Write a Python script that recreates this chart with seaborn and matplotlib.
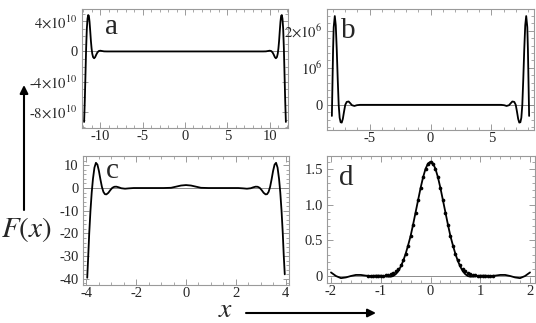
""" Four panels of F(x) with Mathematica-like frames """

import numpy as np
import matplotlib
matplotlib.use("Agg")
import matplotlib.pyplot as plt
from matplotlib.ticker import MultipleLocator
import seaborn as sns

W, H = 536, 323
FRAME = "#9a9a9a"

# panel a, F in units of 1e10
a_x = [-11.90, -11.82, -11.74, -11.66, -11.58, -11.50, -11.42, -11.34, -11.26,
       -11.18, -11.10, -11.02, -10.94, -10.84, -10.72, -10.60, -10.48, -10.34,
       -10.18, -10.00, -9.80, -9.55, -9.20, -5.0, 0.0, 5.0,
       9.20, 9.55, 9.80, 10.00, 10.18, 10.34, 10.48, 10.60, 10.72, 10.84,
       10.94, 11.02, 11.10, 11.18, 11.26, 11.34, 11.42, 11.50, 11.58, 11.66,
       11.74, 11.82, 11.90]
a_f = [-9.3, -6.5, -3.0, 0.5, 3.0, 4.3, 4.8, 4.7, 3.9,
       2.7, 1.4, 0.4, -0.3, -0.75, -0.9, -0.75, -0.45, -0.15,
       0.05, 0.1, 0.06, 0.01, 0.0, 0.0, 0.0, 0.0,
       0.0, 0.01, 0.06, 0.1, 0.05, -0.15, -0.45, -0.75, -0.9, -0.75,
       -0.3, 0.4, 1.4, 2.7, 3.9, 4.7, 4.8, 4.3, 3.0, 0.5,
       -3.0, -6.5, -9.3]

# panel b, F in units of 1e6
b_x = [-8.10, -8.05, -8.00, -7.95, -7.86, -7.78, -7.70, -7.62, -7.54, -7.46,
       -7.38, -7.29, -7.20, -7.10, -7.00, -6.88, -6.72, -6.58, -6.45, -6.25,
       -6.05, -5.80, 0.0, 5.80, 6.05, 6.25, 6.45, 6.58, 6.72, 6.88, 7.00,
       7.10, 7.20, 7.29, 7.38, 7.46, 7.54, 7.62, 7.70, 7.78, 7.86, 7.95,
       8.00, 8.05, 8.10]
b_f = [-0.30, 0.60, 1.50, 2.10, 2.40, 2.15, 1.50, 0.70, 0.00, -0.35,
       -0.47, -0.48, -0.38, -0.18, 0.00, 0.08, 0.09, 0.04, -0.01, -0.03,
       -0.01, 0.00, 0.00, 0.00, -0.01, -0.03, -0.01, 0.04, 0.09, 0.08, 0.00,
       -0.18, -0.38, -0.48, -0.47, -0.35, 0.00, 0.70, 1.50, 2.15, 2.40, 2.10,
       1.50, 0.60, -0.30]

# panel c
c_x = [-3.97, -3.93, -3.89, -3.84, -3.79, -3.74, -3.68, -3.62, -3.56, -3.50,
       -3.44, -3.38, -3.32, -3.26, -3.20, -3.12, -3.04, -2.96, -2.88, -2.80,
       -2.70, -2.60, -2.45, -2.30, -2.10, -1.50, -0.90, -0.60, -0.40, -0.20,
       0.00, 0.20, 0.40, 0.60, 0.90, 1.50, 2.10, 2.30, 2.45, 2.60, 2.70,
       2.80, 2.88, 2.96, 3.04, 3.12, 3.20, 3.26, 3.32, 3.38, 3.44, 3.50,
       3.56, 3.62, 3.68, 3.74, 3.79, 3.84, 3.89, 3.93, 3.97]
c_f = [-39.5, -30.0, -20.0, -10.0, -2.0, 4.0, 9.0, 11.1, 10.3, 7.5,
       3.8, 0.5, -1.7, -2.7, -2.8, -2.1, -0.9, 0.1, 0.55, 0.6,
       0.3, -0.1, -0.3, -0.15, 0.0, 0.0, 0.0, 0.1, 0.6, 1.1,
       1.3, 1.1, 0.6, 0.1, 0.0, 0.0, 0.0, -0.15, -0.3, -0.1, 0.3,
       0.6, 0.55, 0.1, -0.9, -2.1, -2.8, -2.7, -1.7, 0.5, 3.8, 7.5,
       10.3, 11.1, 9.0, 4.0, -2.0, -10.0, -20.0, -30.0, -38.0]

# panel d, curve
d_x = [-2.0, -1.9, -1.8, -1.7, -1.6, -1.5, -1.4, -1.3, -1.2, -1.1, -1.0,
       -0.9, -0.8, -0.75, -0.7, -0.65, -0.6, -0.55, -0.5, -0.45, -0.4,
       -0.35, -0.3, -0.25, -0.2, -0.15, -0.1, -0.05, 0.0, 0.05, 0.1, 0.15,
       0.2, 0.25, 0.3, 0.35, 0.4, 0.45, 0.5, 0.55, 0.6, 0.65, 0.7, 0.75,
       0.8, 0.9, 1.0, 1.1, 1.2, 1.3, 1.4, 1.5, 1.6, 1.7, 1.8, 1.9, 2.0]
d_f = [0.05, 0.0, -0.03, -0.02, 0.0, 0.015, 0.015, 0.005, 0.0, 0.005, 0.005,
       -0.005, -0.01, 0.0, 0.025, 0.065, 0.13, 0.21, 0.31, 0.43, 0.56,
       0.72, 0.89, 1.06, 1.23, 1.38, 1.50, 1.575, 1.60, 1.575, 1.50, 1.38,
       1.23, 1.06, 0.89, 0.72, 0.56, 0.43, 0.31, 0.21, 0.13, 0.065, 0.025, 0.0,
       -0.01, -0.005, 0.005, 0.005, 0.0, 0.005, 0.015, 0.015, 0.0, -0.02,
       -0.03, 0.0, 0.05]

# panel d, points
p_x = [-1.25, -1.20, -1.15, -1.10, -1.05, -1.00, -0.95, -0.90, -0.85, -0.80,
       -0.75, -0.70, -0.65, -0.60, -0.55, -0.50, -0.45, -0.40, -0.35, -0.30,
       -0.25, -0.20, -0.15, -0.10, -0.05, 0.00, 0.05, 0.10, 0.15, 0.20,
       0.25, 0.30, 0.35, 0.40, 0.45, 0.50, 0.55, 0.60, 0.65, 0.70,
       0.75, 0.80, 0.85, 0.90, 0.95, 1.00, 1.05, 1.10, 1.15, 1.20, 1.25]
p_f = [0.0, 0.0, 0.0, 0.001, 0.002, 0.003, 0.005, 0.01, 0.015, 0.025,
       0.04, 0.065, 0.10, 0.15, 0.22, 0.31, 0.42, 0.555, 0.71, 0.88,
       1.06, 1.23, 1.38, 1.50, 1.57, 1.60, 1.57, 1.50, 1.38, 1.23,
       1.06, 0.88, 0.71, 0.555, 0.42, 0.31, 0.22, 0.15, 0.10, 0.065,
       0.04, 0.025, 0.015, 0.01, 0.005, 0.003, 0.002, 0.001, 0.0, 0.0, 0.0]


def add_panel(fig, left, top, right, bottom):
    """ Axes from pixel box (origin top left) """
    return fig.add_axes([left / W, 1 - bottom / H,
                         (right - left) / W, (bottom - top) / H])


def style_panel(ax, xlim, ylim, xticks, xlabels, yticks, ylabels, xminor, yminor):
    """ Frame, ticks and zero line """
    ax.set_xlim(xlim)
    ax.set_ylim(ylim)
    ax.set_xticks(xticks, xlabels)
    ax.set_yticks(yticks, ylabels)
    ax.xaxis.set_minor_locator(MultipleLocator(xminor))
    ax.yaxis.set_minor_locator(MultipleLocator(yminor))
    ax.tick_params(which="both", direction="in", top=True, right=True,
                   color=FRAME, labelsize=10.5, pad=3)
    ax.tick_params(axis="x", pad=1.5)
    ax.tick_params(which="major", length=4, width=0.7)
    ax.tick_params(which="minor", length=2, width=0.6)
    for spine in ax.spines.values():
        spine.set_color(FRAME)
        spine.set_linewidth(0.8)
    ax.axhline(0, color="#8c8c8c", lw=0.7, zorder=1)
    ax.set_xlabel("")
    ax.set_ylabel("")


def main():
    sns.set_style("ticks")
    plt.rcParams["font.family"] = ["Liberation Serif", "DejaVu Serif"]
    plt.rcParams["mathtext.fontset"] = "stix"

    fig = plt.figure(figsize=(W / 100, H / 100), dpi=100)
    line_kw = dict(color="black", lw=1.3, zorder=3)

    ax_a = add_panel(fig, 82, 9, 288, 128)
    sns.lineplot(x=np.array(a_x), y=np.array(a_f) * 1e10, ax=ax_a, **line_kw)
    style_panel(ax_a, (-12.15, 12.15), (-10.1e10, 5.6e10),
                [-10, -5, 0, 5, 10], ["-10", "-5", "0", "5", "10"],
                [4e10, 0, -4e10, -8e10],
                [r"$4{\times}10^{10}$", "0", r"-$4{\times}10^{10}$", r"-$8{\times}10^{10}$"],
                1, 1e10)

    ax_b = add_panel(fig, 327, 9, 534, 130)
    sns.lineplot(x=np.array(b_x), y=np.array(b_f) * 1e6, ax=ax_b, **line_kw)
    style_panel(ax_b, (-8.5, 8.5), (-0.68e6, 2.59e6),
                [-5, 0, 5], ["-5", "0", "5"],
                [0, 1e6, 2e6], ["0", r"$10^{6}$", r"$2{\times}10^{6}$"],
                1, 0.2e6)

    ax_c = add_panel(fig, 83, 156, 289, 285)
    sns.lineplot(x=c_x, y=c_f, ax=ax_c, **line_kw)
    style_panel(ax_c, (-4.14, 4.14), (-42.7, 14.1),
                [-4, -2, 0, 2, 4], ["-4", "-2", "0", "2", "4"],
                [10, 0, -10, -20, -30, -40],
                ["10", "0", "-10", "-20", "-30", "-40"],
                0.5, 2)

    ax_d = add_panel(fig, 327, 156, 535, 283)
    sns.lineplot(x=d_x, y=d_f, ax=ax_d, **line_kw)
    sns.scatterplot(x=p_x, y=p_f, ax=ax_d, color="black", s=7,
                    linewidth=0, zorder=4)
    style_panel(ax_d, (-2.08, 2.10), (-0.098, 1.68),
                [-2, -1, 0, 1, 2], ["-2", "-1", "0", "1", "2"],
                [0, 0.5, 1.0, 1.5], ["0", "0.5", "1.0", "1.5"],
                0.2, 0.1)

    # panel letters
    for letter, px, py in [("a", 111, 34), ("b", 348, 38), ("c", 112, 178), ("d", 346, 185)]:
        fig.text(px / W, 1 - py / H, letter, ha="center", va="baseline", fontsize=21)

    # axis labels with arrows
    fig.text(26 / W, 1 - 230 / H, r"$F(x)$", ha="center", va="center", fontsize=21)
    fig.text(226 / W, 1 - 317 / H, r"$x$", ha="center", va="baseline", fontsize=20)
    arrow = dict(arrowstyle="-|>", color="black", lw=1.5, mutation_scale=12,
                 shrinkA=0, shrinkB=0)
    ax_a.annotate("", xy=(24 / W, 1 - 85 / H), xytext=(24 / W, 1 - 210 / H),
                  xycoords="figure fraction", textcoords="figure fraction",
                  arrowprops=arrow, annotation_clip=False)
    ax_a.annotate("", xy=(376 / W, 1 - 313 / H), xytext=(246 / W, 1 - 313 / H),
                  xycoords="figure fraction", textcoords="figure fraction",
                  arrowprops=arrow, annotation_clip=False)

    fig.savefig("out.png", dpi=100)


if __name__ == "__main__":
    main()
